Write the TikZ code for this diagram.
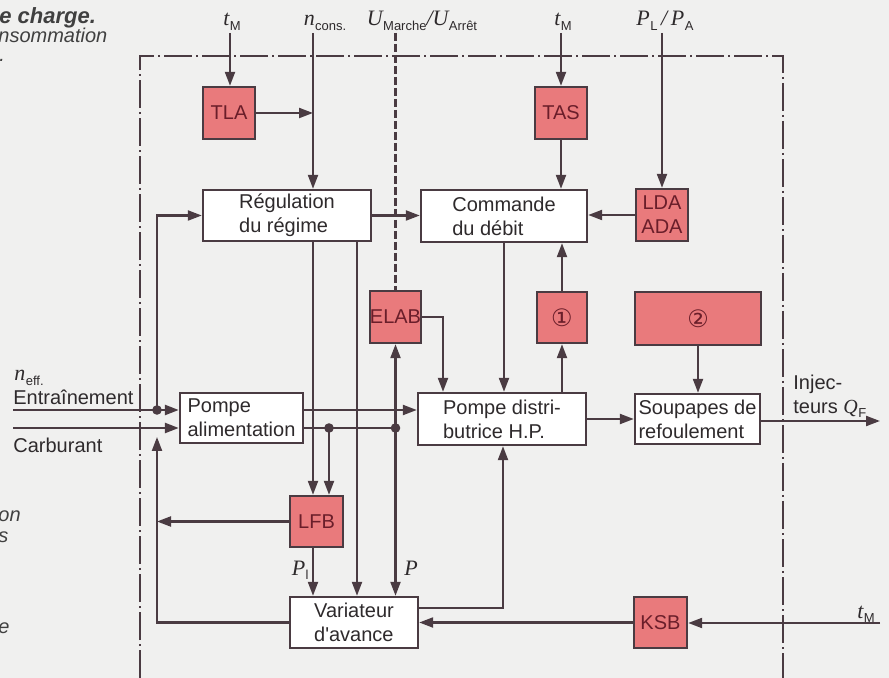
\documentclass[tikz,border=0pt]{standalone}
\usepackage{fontspec}
\setmainfont{Liberation Sans}
\newfontfamily\serifrm{Liberation Serif}
\newfontfamily\symfont{DejaVu Sans}
\usetikzlibrary{arrows.meta}
\definecolor{linec}{HTML}{4A3B42}
\definecolor{salm}{HTML}{E97A7C}
\definecolor{rtext}{HTML}{6A1E2A}
\definecolor{textc}{HTML}{2E2A2C}
\definecolor{bgc}{HTML}{F0F0EF}
\definecolor{capc}{HTML}{404040}
\newcommand\subv[2]{{\serifrm\itshape #1}\kern0.2pt\raisebox{-0.35ex}{\fontsize{6.5}{7}\selectfont #2}}
\begin{document}
\begin{tikzpicture}[x=0.5pt,y=-0.5pt,
  box/.style={draw=linec, line width=1.2pt, fill=white, inner sep=0pt, align=left,
    font=\fontsize{10}{12}\selectfont, text=textc},
  rbox/.style={box, fill=salm, text=rtext, align=center},
  arr/.style={draw=linec, line width=1.1pt, -{Triangle[length=7pt,width=5pt]}},
  ln/.style={draw=linec, line width=1.1pt},
  frame/.style={draw=linec, line width=1.1pt, dash pattern=on 14pt off 2pt on 1pt off 2pt},
  ctrl/.style={draw=linec, line width=1.2pt, dash pattern=on 4pt off 1.5pt},
  lab/.style={inner sep=0pt, font=\fontsize{11}{13}\selectfont, text=textc},
  txt/.style={inner sep=0pt, font=\fontsize{10}{12}\selectfont, text=textc},
  captxt/.style={inner sep=0pt, font=\fontsize{10}{12}\selectfont\itshape, text=capc},
  dot/.style={fill=linec}]
\fill[bgc] (0,0) rectangle (889,678);
\useasboundingbox (0,0) rectangle (889,678);

% caption fragments
\node[captxt, anchor=base west, font=\fontsize{11}{13}\selectfont\bfseries\itshape] (c1) at (-1,24) {e charge.};
\node[captxt, anchor=base west] (c2) at (-2,43) {nsommation};
\node[captxt, anchor=base west] (c3) at (-1,62) {.};
\node[captxt, anchor=base west] (c4) at (-2,522) {on};
\node[captxt, anchor=base west] (c5) at (-2,543) {s};
\node[captxt, anchor=base west] (c6) at (-2,633) {e};

% frame
\draw[frame] (140,678) -- (140,56) -- (783,56) -- (783,678);

% blocks
\node[rbox, minimum width=26pt, minimum height=26pt] (tla) at (229,113) {TLA};
\node[box, minimum width=84pt, minimum height=25.5pt] (reg) at (287,215.5) {Régulation\\du régime};
\node[box, minimum width=83pt, minimum height=26pt] (com) at (504,216) {Commande\\du débit};
\node[rbox, minimum width=26pt, minimum height=26pt] (tas) at (561,113) {TAS};
\node[rbox, minimum width=26pt, minimum height=26pt] (lda) at (662,215) {LDA\\ADA};
\node[rbox, minimum width=24.5pt, minimum height=26pt] (elab) at (395.5,317) {ELAB};
\node[rbox, minimum width=25pt, minimum height=25.5pt] (one) at (562,317.5) {\symfont\fontsize{12}{12}\selectfont ①};
\node[rbox, minimum width=63pt, minimum height=26.5pt] (two) at (698,318.5) {\symfont\fontsize{12}{12}\selectfont ②};
\node[box, minimum width=61.5pt, minimum height=25pt] (pa) at (241.5,418) {Pompe\\alimentation};
\node[box, minimum width=84pt, minimum height=26pt] (pd) at (502,419) {Pompe distri-\\butrice H.P.};
\node[box, minimum width=62.5pt, minimum height=25pt] (sou) at (697.5,419) {Soupapes de\\refoulement};
\node[rbox, minimum width=26.5pt, minimum height=25.5pt] (lfb) at (316.5,521.5) {LFB};
\node[box, minimum width=64pt, minimum height=25.5pt] (var) at (354,622.5) {Variateur\\d\textquotesingle avance};
\node[rbox, minimum width=26.5pt, minimum height=25.5pt] (ksb) at (660.5,622.5) {KSB};

% top labels and inputs
\node[lab, anchor=base] (ltm1) at (232,26) {\subv{t}{M}};
\node[lab, anchor=base] (lnc) at (325,26) {\subv{n}{cons.}};
\node[lab, anchor=base] (lu) at (422,26) {\subv{U}{Marche}{\serifrm\itshape /}\subv{U}{Arrêt}};
\node[lab, anchor=base] (ltm2) at (563,26) {\subv{t}{M}};
\node[lab, anchor=base] (lpl) at (665,26) {\subv{P}{L}{\serifrm\itshape\,/\,}\subv{P}{A}};
\coordinate (itm1) at (230,33);
\coordinate (inc) at (313,33);
\coordinate (iu) at (395.5,33);
\coordinate (itm2) at (561,33);
\coordinate (ipl) at (662,33);

\draw[arr] (itm1) -- (itm1 |- tla.north);
\draw[arr] (tla.east) -- (inc |- tla.east);
\draw[arr] (inc) -- (inc |- reg.north);
\draw[ctrl] (iu) -- (elab.north);
\draw[arr] (reg.east) -- (com.west |- reg.east);
\draw[arr] (itm2) -- (tas.north);
\draw[arr] (tas.south) -- (tas.south |- com.north);
\draw[arr] (ipl) -- (lda.north);
\draw[arr] (lda.west) -- (com.east |- lda.west);

% commande / pompe distributrice
\draw[arr] (com.south) -- (com.south |- pd.north);
\draw[arr] (pd.north -| one) -- (one.south);
\draw[arr] (one.north) -- (one.north |- com.south);
\coordinate (e1) at (443,317);
\draw[arr] (elab.east) -- (e1) -- (e1 |- pd.north);
\draw[arr] (two.south) -- (two.south |- sou.north);
\draw[arr] (pd.east |- sou.west) -- (sou.west);
\coordinate (out) at (880,421);
\draw[arr] (sou.east |- out) -- (out);
\node[txt, anchor=west, align=left] (inj) at (793,396) {Injec-\\teurs \subv{Q}{F}};

% left inputs
\coordinate (in1) at (13,410);
\coordinate (in2) at (13,428);
\coordinate (j1) at (157,410);
\draw[arr, line width=1.3pt] (in1) -- (in1 -| pa.west);
\draw[arr, line width=1.3pt] (in2) -- (in2 -| pa.west);
\draw[arr] (j1) |- (reg.west);
\fill[dot] (j1) circle (2.4pt);
\node[txt, anchor=base west] (lent) at (13,405) {Entraînement};
\node[lab, anchor=base west] (lneff) at (14,381) {\subv{n}{eff.}};
\node[txt, anchor=base west] (lcar) at (13,452) {Carburant};

% pompe alimentation outputs
\draw[arr] (pa.east |- in1) -- (pd.west |- in1);
\coordinate (d1) at (329,428);
\coordinate (d2) at (395.5,428);
\draw[ln] (pa.east |- in2) -- (d2);
\fill[dot] (d1) circle (2.4pt);
\fill[dot] (d2) circle (2.4pt);
\draw[arr] (d1) -- (d1 |- lfb.north);
\draw[arr] (d2) -- (elab.south);
\draw[arr] (d2) -- (d2 |- var.north);
\node[lab, anchor=base west] (lp) at (404,575) {\serifrm\itshape P};

% regulation outputs
\coordinate (r2) at (357,241);
\draw[arr] (inc |- reg.south) -- (inc |- lfb.north);
\draw[arr] (r2) -- (r2 |- var.north);

% LFB
\draw[arr] (lfb.south -| inc) -- (inc |- var.north);
\node[lab, anchor=base east] (lpl2) at (309,575) {\subv{P}{l}};
\draw[arr] (lfb.west) -- (lfb.west -| j1);

% variateur
\coordinate (v1) at (157,437);
\draw[arr] (var.west) -| (v1);
\coordinate (v2) at (503,608);
\draw[arr] (v2 -| var.east) -- (v2) -- (v2 |- pd.south);
\draw[arr] (ksb.west) -- (var.east |- ksb.west);
\coordinate (itm3) at (880,623);
\draw[arr] (itm3) -- (ksb.east |- itm3);
\node[lab, anchor=base] (ltm3) at (866,618) {\subv{t}{M}};
\end{tikzpicture}
\end{document}
